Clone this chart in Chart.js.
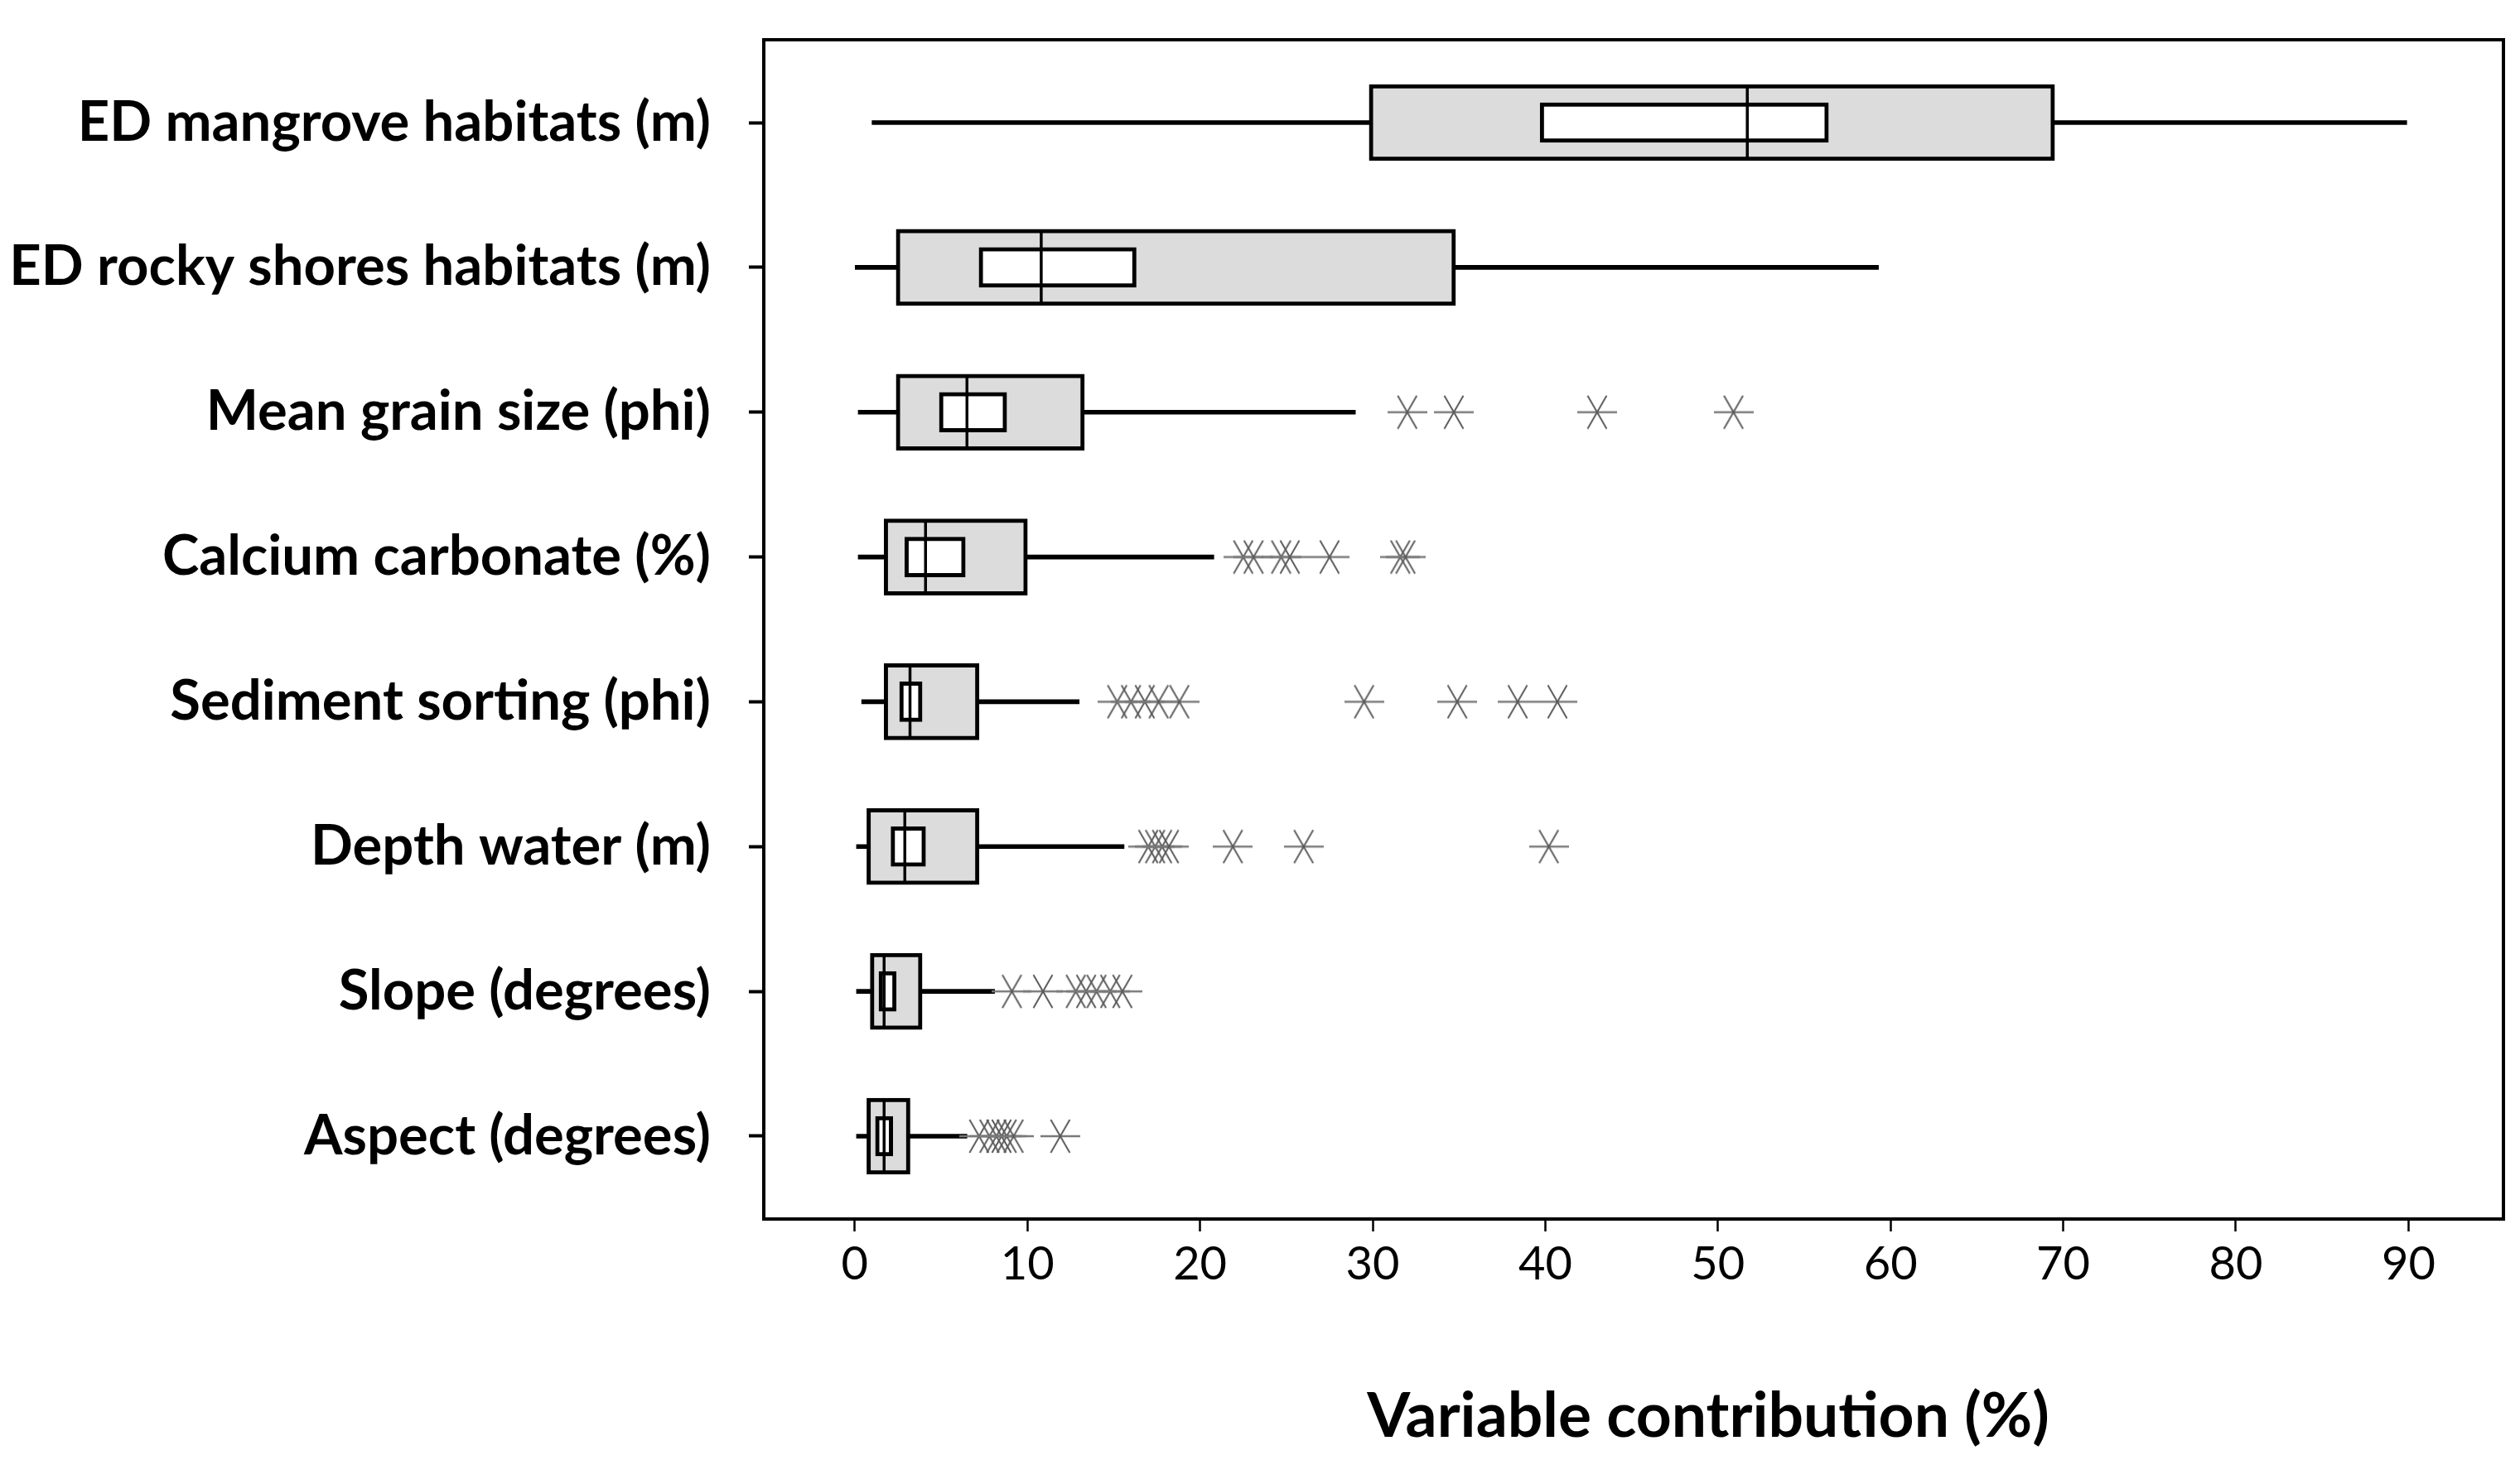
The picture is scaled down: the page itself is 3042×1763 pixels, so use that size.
<!DOCTYPE html>
<html>
<head>
<meta charset="utf-8">
<script src="https://cdn.jsdelivr.net/npm/chart.js@4.4.1/dist/chart.umd.min.js"></script>
<style>
html,body{margin:0;padding:0;background:#fff;overflow:hidden}
#wrap{width:3042px;height:1763px}
</style>
</head>
<body>
<div id="wrap"><canvas id="c" width="3042" height="1763"></canvas></div>
<script>
// ---- Data ----
const categories = [
  "ED mangrove habitats (m)",
  "ED rocky shores habitats (m)",
  "Mean grain size (phi)",
  "Calcium carbonate (%)",
  "Sediment sorting (phi)",
  "Depth water (m)",
  "Slope (degrees)",
  "Aspect (degrees)"
];
const whiskerLow  = [1.0, 0.0, 0.2, 0.2, 0.4, 0.1, 0.1, 0.1];
const boxLow      = [29.8, 2.4, 2.4, 1.7, 1.7, 0.7, 0.9, 0.7];
const notchLow    = [39.7, 7.2, 4.9, 2.9, 2.6, 2.1, 1.4, 1.2];
const medians     = [51.7, 10.8, 6.5, 4.1, 3.2, 2.9, 1.7, 1.7];
const notchHigh   = [56.4, 16.3, 8.8, 6.4, 3.9, 4.1, 2.4, 2.2];
const boxHigh     = [69.5, 34.8, 13.3, 10.0, 7.2, 7.2, 3.9, 3.2];
const whiskerHigh = [89.9, 59.3, 29.0, 20.8, 13.0, 15.6, 8.1, 6.5];
const outliers = [
  [],
  [],
  [32.0, 34.7, 43.0, 50.9],
  [22.5, 23.1, 24.7, 25.2, 27.5, 31.6, 31.9],
  [15.2, 16.0, 16.8, 17.6, 18.8, 29.5, 34.9, 38.4, 40.7],
  [17.0, 17.4, 17.8, 18.2, 21.9, 26.0, 40.2],
  [9.1, 10.9, 12.8, 13.4, 14.0, 14.8, 15.5],
  [7.2, 7.8, 8.2, 8.5, 8.8, 9.2, 11.9]
];
const xTicks = [0, 10, 20, 30, 40, 50, 60, 70, 80, 90];
const xTitle = "Variable contribution (%)";

// ---- Derived tables for the library ----
const idx = categories.map((_, i) => i);
const whiskerData = idx.map(i => ({ x: [whiskerLow[i], whiskerHigh[i]], y: i }));
const boxData     = idx.map(i => ({ x: [boxLow[i], boxHigh[i]], y: i }));
const notchData   = idx.map(i => ({ x: [notchLow[i], notchHigh[i]], y: i }));
const medianData  = idx.map(i => ({ x: medians[i], y: i }));
const outlierData = [];
outliers.forEach((arr, i) => arr.forEach(v => outlierData.push({ x: v, y: i })));

// asterisk glyph used as point style
function makeStar() {
  const c = document.createElement('canvas');
  c.width = 48; c.height = 42;
  const g = c.getContext('2d');
  g.strokeStyle = '#7a7a7a';
  g.lineWidth = 2.6;
  g.beginPath(); g.moveTo(0, 21); g.lineTo(48, 21); g.stroke();
  g.strokeStyle = '#5a5a5a';
  g.lineWidth = 2;
  g.beginPath(); g.moveTo(12.5, 1); g.lineTo(35.5, 41); g.moveTo(35.5, 1); g.lineTo(12.5, 41); g.stroke();
  return c;
}
const star = makeStar();

const framePlugin = {
  id: 'frame',
  afterDatasetsDraw(chart) {
    const a = chart.chartArea, ctx = chart.ctx;
    ctx.save();
    ctx.strokeStyle = '#000';
    ctx.lineWidth = 4;
    ctx.strokeRect(a.left, a.top, a.right - a.left, a.bottom - a.top);
    ctx.restore();
  }
};
const titlePlugin = {
  id: 'xtitle',
  afterDraw(chart) {
    const a = chart.chartArea, ctx = chart.ctx;
    ctx.save();
    ctx.fillStyle = '#000';
    ctx.font = 'bold 75px Lato';
    ctx.textAlign = 'center';
    ctx.textBaseline = 'alphabetic';
    ctx.fillText(xTitle, (a.left + a.right) / 2 + 90, 1735);
    ctx.restore();
  }
};

new Chart(document.getElementById('c'), {
  type: 'bar',
  data: {
    datasets: [
      { type: 'scatter', data: outlierData, pointStyle: star, pointRadius: 22, showLine: false, order: 0 },
      { type: 'scatter', data: medianData, pointStyle: 'line', rotation: 90, pointRadius: 45,
        borderColor: '#000', pointBorderWidth: 3.5, borderWidth: 3.5, showLine: false, order: 1 },
      { data: notchData, backgroundColor: '#ffffff', borderColor: '#000', borderWidth: 5,
        borderSkipped: false, barThickness: 48, grouped: false, order: 2 },
      { data: boxData, backgroundColor: '#dcdcdc', borderColor: '#000', borderWidth: 5,
        borderSkipped: false, barThickness: 92, grouped: false, order: 3 },
      { data: whiskerData, backgroundColor: '#000', borderWidth: 0,
        borderSkipped: false, barThickness: 5, grouped: false, order: 4 }
    ]
  },
  options: {
    indexAxis: 'y',
    responsive: false,
    animation: false,
    devicePixelRatio: 1,
    events: [],
    layout: { autoPadding: false, padding: { top: 48, right: 20, left: 0, bottom: 0 } },
    plugins: { legend: { display: false }, tooltip: { enabled: false }, title: { display: false } },
    scales: {
      x: {
        type: 'linear', position: 'bottom', min: -5.27, max: 95.5, offset: false,
        afterBuildTicks: s => { s.ticks = xTicks.map(v => ({ value: v })); },
        afterFit: s => { s.height = 291; s.paddingLeft = 0; s.paddingRight = 0; },
        border: { display: false },
        grid: { offset: false, drawOnChartArea: false, drawTicks: true, tickLength: 15, tickWidth: 2.5, color: '#000' },
        ticks: { color: '#000', font: { family: 'Lato', size: 56 }, padding: 6, autoSkip: false, maxRotation: 0 }
      },
      y: {
        type: 'linear', position: 'left', reverse: true, min: -0.572, max: 7.572, offset: false,
        afterBuildTicks: s => { s.ticks = idx.map(v => ({ value: v })); },
        afterFit: s => { s.width = 922; s.paddingTop = 0; s.paddingBottom = 0; },
        border: { display: false },
        grid: { offset: false, drawOnChartArea: false, drawTicks: true, tickLength: 18, tickWidth: 4, color: '#000' },
        ticks: { color: '#000', font: { family: 'Lato', size: 67, weight: 'bold' }, padding: 46, autoSkip: false,
          callback: v => categories[v] }
      }
    }
  },
  plugins: [framePlugin, titlePlugin]
});
</script>
</body>
</html>
